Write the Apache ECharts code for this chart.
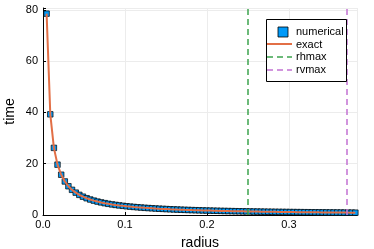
<!DOCTYPE html>
<html><head><meta charset="utf-8">
<script src="https://cdn.jsdelivr.net/npm/echarts@6/dist/echarts.min.js"></script>
<style>html,body{margin:0;padding:0;background:#fff}#c{width:374px;height:249px}</style>
</head><body><div id="c"></div>
<script>
const radius = [0.0044,0.0089,0.0133,0.0177,0.0222,0.0266,0.0310,0.0354,0.0399,0.0443,
0.0487,0.0532,0.0576,0.0620,0.0665,0.0709,0.0753,0.0797,0.0842,0.0886,
0.0930,0.0975,0.1019,0.1063,0.1108,0.1152,0.1196,0.1240,0.1285,0.1329,
0.1373,0.1418,0.1462,0.1506,0.1551,0.1595,0.1639,0.1683,0.1728,0.1772,
0.1816,0.1861,0.1905,0.1949,0.1994,0.2038,0.2082,0.2126,0.2171,0.2215,
0.2259,0.2304,0.2348,0.2392,0.2437,0.2481,0.2525,0.2569,0.2614,0.2658,
0.2702,0.2747,0.2791,0.2835,0.2880,0.2924,0.2968,0.3012,0.3057,0.3101,
0.3145,0.3190,0.3234,0.3278,0.3323,0.3367,0.3411,0.3455,0.3500,0.3544,
0.3588,0.3633,0.3677,0.3721,0.3766,0.3810];
const numerical = [78.5,39.25,26.17,19.63,15.7,13.08,11.21,9.81,8.72,7.85,
7.14,6.54,6.04,5.61,5.23,4.91,4.62,4.36,4.13,3.93,
3.74,3.57,3.41,3.27,3.14,3.02,2.91,2.80,2.71,2.62,
2.53,2.45,2.38,2.31,2.24,2.18,2.12,2.07,2.01,1.96,
1.91,1.87,1.83,1.78,1.74,1.71,1.67,1.64,1.60,1.57,
1.54,1.51,1.48,1.45,1.43,1.40,1.38,1.35,1.33,1.31,
1.29,1.27,1.25,1.23,1.21,1.19,1.17,1.15,1.14,1.12,
1.11,1.09,1.08,1.06,1.05,1.03,1.02,1.01,0.99,0.98,
0.97,0.96,0.95,0.93,0.92,0.91];
const exact = [78.5,39.25,26.17,19.63,15.7,13.08,11.21,9.81,8.72,7.85,
7.14,6.54,6.04,5.61,5.23,4.91,4.62,4.36,4.13,3.93,
3.74,3.57,3.41,3.27,3.14,3.02,2.91,2.80,2.71,2.62,
2.53,2.45,2.38,2.31,2.24,2.18,2.12,2.07,2.01,1.96,
1.91,1.87,1.83,1.78,1.74,1.71,1.67,1.64,1.60,1.57,
1.54,1.51,1.48,1.45,1.43,1.40,1.38,1.35,1.33,1.31,
1.29,1.27,1.25,1.23,1.21,1.19,1.17,1.15,1.14,1.12,
1.11,1.09,1.08,1.06,1.05,1.03,1.02,1.01,0.99,0.98,
0.97,0.96,0.95,0.93,0.92,0.91];
const rhmax = 0.25;
const rvmax = 0.3745;
const xTicks = [0, 0.1, 0.2, 0.3];
const yTicks = [0, 20, 40, 60, 80];
const legendNames = ['numerical', 'exact', 'rhmax', 'rvmax'];

const C = {blue:'#009AF9', orange:'#E26F46', green:'#3DA44D', purple:'#C271D2'};
const FONT = '"Liberation Sans", Arial, sans-serif';
const chart = echarts.init(document.getElementById('c'), null, {renderer:'canvas'});

function isTick(list, v){ return list.some(t => Math.abs(t - v) < 1e-9); }

const lx = 266, ly = 19;
const legendGraphics = [
  {type:'rect', shape:{x:lx+0.5, y:ly+0.5, width:80, height:62}, style:{fill:'#fff', stroke:'#000', lineWidth:1}, z:100},
  {type:'rect', shape:{x:lx+12, y:ly+8, width:10, height:10}, style:{fill:C.blue, stroke:'#000', lineWidth:0.8}, z:101},
  {type:'line', shape:{x1:lx+1, y1:ly+25, x2:lx+26, y2:ly+25}, style:{stroke:C.orange, lineWidth:2}, z:101},
  {type:'line', shape:{x1:lx+1, y1:ly+38, x2:lx+26, y2:ly+38}, style:{stroke:C.green, lineWidth:1.5, lineDash:[6,4]}, z:101},
  {type:'line', shape:{x1:lx+1, y1:ly+51, x2:lx+26, y2:ly+51}, style:{stroke:C.purple, lineWidth:1.5, lineDash:[6,4]}, z:101}
];
legendNames.forEach((n, i) => {
  legendGraphics.push({type:'text', x:lx+30, y:ly+13+i*12.7, z:101,
    style:{text:n, fill:'#000', font:'11px ' + FONT, textVerticalAlign:'middle', verticalAlign:'middle'}});
});

chart.setOption({
  animation:false,
  backgroundColor:'#fff',
  grid:{left:43, right:17, top:8, bottom:34, containLabel:false, outerBoundsMode:'none'},
  xAxis:{
    type:'value', min:0, max:0.383, interval:0.1,
    name:'radius', nameLocation:'middle', nameGap:21, nameMoveOverlap:false,
    nameTextStyle:{fontSize:14, color:'#000', fontFamily:FONT},
    axisLine:{show:true, onZero:false, lineStyle:{color:'#000', width:1}},
    axisTick:{show:true, inside:true, length:3, lineStyle:{color:'#000'}},
    axisLabel:{fontSize:11, color:'#000', fontFamily:FONT, margin:4, hideOverlap:false,
      formatter:v => isTick(xTicks, v) ? v.toFixed(1) : ''},
    splitLine:{show:true, lineStyle:{color:'#ececec', width:1}}
  },
  yAxis:{
    type:'value', min:0, max:80.7, interval:20,
    name:'time', nameLocation:'middle', nameGap:26, nameRotate:90, nameMoveOverlap:false,
    nameTextStyle:{fontSize:14, color:'#000', fontFamily:FONT},
    axisLine:{show:true, onZero:false, lineStyle:{color:'#000', width:1}},
    axisTick:{show:true, inside:true, length:3, lineStyle:{color:'#000'}},
    axisLabel:{fontSize:11, color:'#000', fontFamily:FONT, margin:5, hideOverlap:false,
      formatter:v => isTick(yTicks, v) ? String(v) : ''},
    splitLine:{show:true, lineStyle:{color:'#ececec', width:1}}
  },
  series:[
    {name:'numerical', type:'scatter', symbol:'rect', symbolSize:5.5,
     itemStyle:{color:C.blue, borderColor:'#000', borderWidth:0.7, opacity:1},
     data: radius.map((r,i) => [r, numerical[i]]), z:2},
    {name:'exact', type:'line', showSymbol:false, symbol:'none',
     lineStyle:{color:C.orange, width:2}, data: radius.map((r,i) => [r, exact[i]]), z:3,
     markLine:{silent:true, symbol:'none', label:{show:false},
       data:[
         {xAxis:rhmax, lineStyle:{color:C.green, width:1.5, type:[6,4]}},
         {xAxis:rvmax, lineStyle:{color:C.purple, width:1.5, type:[6,4]}}
       ]}}
  ],
  graphic: legendGraphics
});
</script></body></html>
